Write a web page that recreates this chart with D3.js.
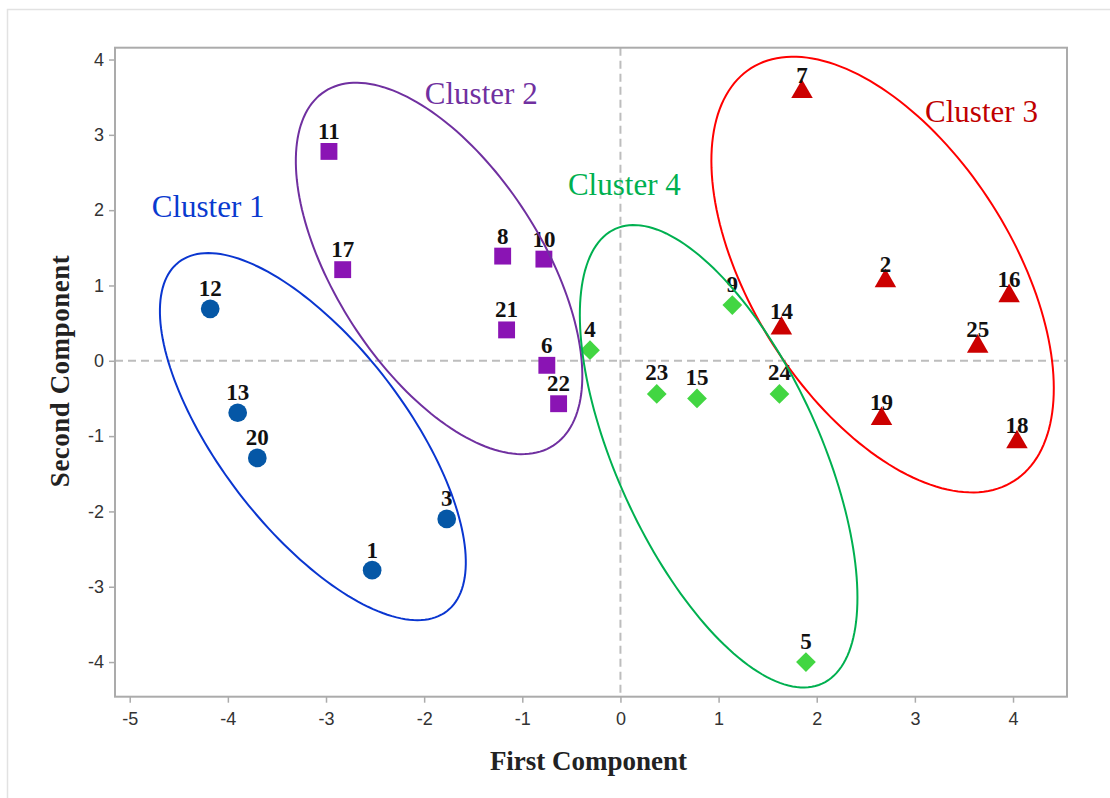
<!DOCTYPE html>
<html>
<head>
<meta charset="utf-8">
<script src="https://cdn.jsdelivr.net/npm/d3@7"></script>
<style>
  html, body { margin: 0; padding: 0; background: #fff; }
  svg { display: block; }
</style>
</head>
<body>
<svg id="chart" width="1110" height="798"></svg>
<script>
// ---- data ----
const ids      = [12, 13, 20, 3, 1,  11, 17, 8, 10, 21, 6, 22,  4, 23, 15, 9, 24, 5,  7, 2, 16, 14, 25, 19, 18];
const first    = [-4.18, -3.90, -3.70, -1.77, -2.53,  -2.97, -2.83, -1.20, -0.78, -1.16, -0.75, -0.63,  -0.31, 0.37, 0.78, 1.14, 1.62, 1.89,  1.85, 2.70, 3.96, 1.64, 3.64, 2.66, 4.04];
const second   = [0.69, -0.69, -1.29, -2.10, -2.78,  2.78, 1.21, 1.39, 1.35, 0.41, -0.06, -0.57,  0.14, -0.44, -0.50, 0.74, -0.44, -4.00,  3.57, 1.06, 0.86, 0.43, 0.19, -0.77, -1.08];
const cluster  = [1,1,1,1,1, 2,2,2,2,2,2,2, 4,4,4,4,4,4, 3,3,3,3,3,3,3];

const clusterNames = ["Cluster 1", "Cluster 2", "Cluster 3", "Cluster 4"];
// label anchor (data units)
const clusterLabelX = [-4.776, -1.993, 3.104, -0.535];
const clusterLabelY = [1.908, 3.409, 3.171, 2.199];
// ellipses: center and two conjugate semi-axis vectors (data units)
const ellCX = [-3.134, -1.848, 2.671, 1.0005];
const ellCY = [-1.007, 1.226, 1.145, -1.268];
const ellUX = [1.365, 1.163, 1.340, 1.054];
const ellUY = [-2.318, -2.352, -2.740, -3.019];
const ellVX = [-0.752, -0.882, -1.117, -0.943];
const ellVY = [-0.752, -0.740, -0.927, -0.559];

const xTicks = [-5, -4, -3, -2, -1, 0, 1, 2, 3, 4];
const yTicks = [-4, -3, -2, -1, 0, 1, 2, 3, 4];
const xTitle = "First Component";
const yTitle = "Second Component";

// ---- styles ----
const markerFill   = {1: "#0557a6", 2: "#8a14b4", 3: "#cc0000", 4: "#42d642"};
const ellipseColor = ["#0a36d0", "#7030a0", "#ff0000", "#00b050"];
const labelColor   = ["#0a3acf", "#7030a0", "#c00000", "#00b050"];

const svg = d3.select("#chart");

// outer light border
svg.append("rect").attr("x", 7.5).attr("y", 9.5).attr("width", 1110).attr("height", 800)
  .attr("fill", "none").attr("stroke", "#e2e2e2").attr("stroke-width", 1.5);

const L = 115, R = 1067, T = 47.7, B = 696.7;
const x = d3.scaleLinear().domain([-5.15, 4.55]).range([L, R]);
const y = d3.scaleLinear().domain([-4.46, 4.157]).range([B, T]);

// reference dashed lines
svg.append("line").attr("x1", L).attr("x2", R).attr("y1", y(0)).attr("y2", y(0))
  .attr("stroke", "#bdbdbd").attr("stroke-width", 2).attr("stroke-dasharray", "8,5");
svg.append("line").attr("x1", x(0)).attr("x2", x(0)).attr("y1", T).attr("y2", B)
  .attr("stroke", "#bdbdbd").attr("stroke-width", 2).attr("stroke-dasharray", "8,5");

// axes
const axisColor = "#ababab";
const fmt = d => String(d);
const xAxis = svg.append("g").attr("transform", `translate(0,${B})`)
  .call(d3.axisBottom(x).tickValues(xTicks).tickSize(6).tickPadding(6).tickFormat(fmt));
const yAxis = svg.append("g").attr("transform", `translate(${L},0)`)
  .call(d3.axisLeft(y).tickValues(yTicks).tickSize(6).tickPadding(5).tickFormat(fmt));
[xAxis, yAxis].forEach(g => {
  g.select(".domain").remove();
  g.selectAll(".tick line").attr("stroke", axisColor).attr("stroke-width", 1.5);
  g.selectAll(".tick text").attr("fill", "#333").style("font-family", "'Liberation Sans', Arial, sans-serif").style("font-size", "18px");
});
xAxis.selectAll(".tick text").attr("dy", "0.9em");

// frame
svg.append("rect").attr("x", L).attr("y", T).attr("width", R - L).attr("height", B - T)
  .attr("fill", "none").attr("stroke", axisColor).attr("stroke-width", 2);

// axis titles
svg.append("text").attr("x", 588.5).attr("y", 770).attr("text-anchor", "middle")
  .style("font-family", "'Liberation Serif', 'Times New Roman', serif").style("font-weight", "bold")
  .style("font-size", "27px").attr("fill", "#222").text(xTitle);
svg.append("text").attr("transform", `translate(69,${371}) rotate(-90)`).attr("text-anchor", "middle")
  .style("font-family", "'Liberation Serif', 'Times New Roman', serif").style("font-weight", "bold")
  .style("font-size", "27px").style("letter-spacing", "0.5px").attr("fill", "#222").text(yTitle);

// points
const pts = ids.map((id, i) => ({id, x: first[i], y: second[i], c: cluster[i]}));
const symFor = {1: d3.symbolCircle, 2: d3.symbolSquare, 3: d3.symbolTriangle, 4: d3.symbolSquare};
const sizeFor = {1: 275, 2: 285, 3: 200, 4: 195};
const gPts = svg.append("g");
gPts.selectAll("path").data(pts).join("path")
  .attr("d", d => d3.symbol().type(symFor[d.c]).size(sizeFor[d.c])())
  .attr("transform", d => `translate(${x(d.x)},${y(d.y)})` + (d.c === 4 ? " rotate(45)" : ""))
  .attr("fill", d => markerFill[d.c]);

// point labels
gPts.selectAll("text").data(pts).join("text")
  .attr("x", d => x(d.x)).attr("y", d => y(d.y) - (d.c === 3 ? 9 : (d.c === 4 ? 13.5 : 12.5)))
  .attr("text-anchor", "middle")
  .style("font-family", "'Liberation Serif', 'Times New Roman', serif").style("font-weight", "bold")
  .style("font-size", "23px").attr("fill", "#111").text(d => d.id);

// ellipses
const N = 180;
const line = d3.line().curve(d3.curveLinearClosed);
for (let k = 0; k < 4; k++) {
  const ptsE = d3.range(N).map(j => {
    const t = 2 * Math.PI * j / N;
    const dx = ellCX[k] + ellUX[k] * Math.cos(t) + ellVX[k] * Math.sin(t);
    const dy = ellCY[k] + ellUY[k] * Math.cos(t) + ellVY[k] * Math.sin(t);
    return [x(dx), y(dy)];
  });
  svg.append("path").attr("d", line(ptsE)).attr("fill", "none")
    .attr("stroke", ellipseColor[k]).attr("stroke-width", 2);
}

// cluster labels
clusterNames.forEach((n, k) => {
  svg.append("text").attr("x", x(clusterLabelX[k])).attr("y", y(clusterLabelY[k]))
    .style("font-family", "'Liberation Serif', 'Times New Roman', serif")
    .style("font-size", "31px").attr("fill", labelColor[k]).text(n);
});
</script>
</body>
</html>
